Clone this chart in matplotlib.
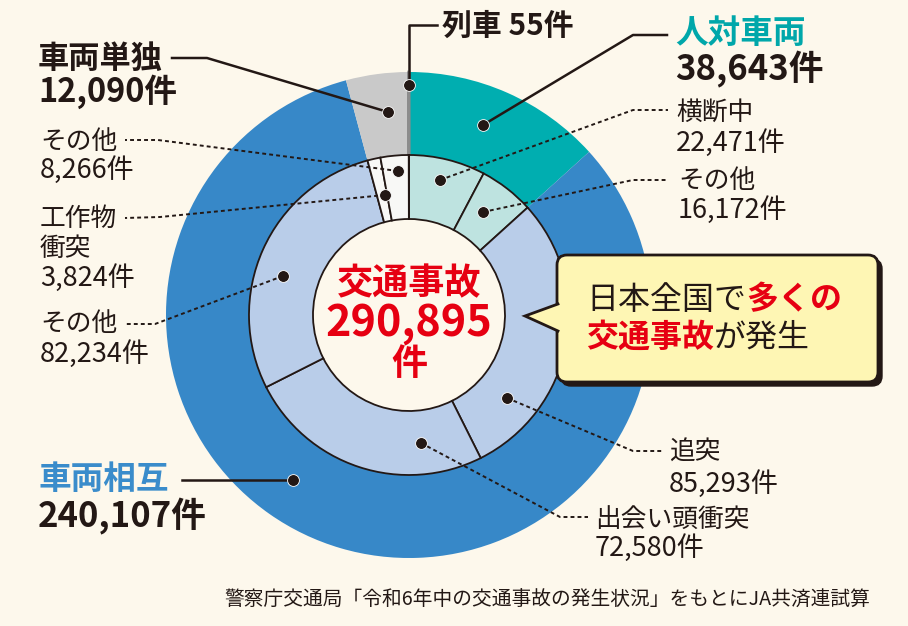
import numpy as np
import matplotlib.pyplot as plt
from matplotlib.patches import FancyBboxPatch, Polygon

plt.rcParams['font.family'] = ['Noto Sans CJK JP', 'DejaVu Sans']

# 外側: 事故類型別
outer_names = ['人対車両', '車両相互', '車両単独', '列車']
outer_counts = [38643, 240107, 12090, 55]
# 内側: 内訳
inner_names = ['横断中', 'その他', '追突', '出会い頭衝突', 'その他', '工作物衝突', 'その他', '列車']
inner_counts = [22471, 16172, 85293, 72580, 82234, 3824, 8266, 55]
total = 290895

BG = '#fdf8ec'
INK = '#231815'
RED = '#e60012'
outer_colors = ['#00aeb0', '#3788c8', '#c9c9c9', '#8c8c8c']
inner_colors = ['#bee3e0', '#bee3e0', '#b9cde9', '#b9cde9', '#b9cde9', '#f8f8f6', '#f8f8f6', '#f8f8f6']

fig = plt.figure(figsize=(9.08, 6.26), dpi=100, facecolor=BG)
ax = fig.add_axes([0, 0, 1, 1])
ax.set_facecolor(BG)

cx, cy = 409, 315
# y axis is inverted below, so counterclock=True runs clockwise on screen
w_out, _ = ax.pie(outer_counts, radius=243, center=(cx, cy), startangle=-90,
                  counterclock=True, colors=outer_colors,
                  wedgeprops=dict(width=83, linewidth=0))
w_out[-1].set_edgecolor(outer_colors[-1])
w_out[-1].set_linewidth(2)
w_in, _ = ax.pie(inner_counts, radius=160, center=(cx, cy), startangle=-90,
                 counterclock=True, colors=inner_colors,
                 wedgeprops=dict(width=64, edgecolor=INK, linewidth=1.3))

ax.set_xlim(0, 908)
ax.set_ylim(626, 0)
ax.set_aspect('equal')
ax.axis('off')

# center text
ax.text(cx, 284, '交通事故', color=RED, fontsize=26, fontweight='bold', ha='center', va='center')
ax.text(cx, 323, f'{total:,}', color=RED, fontsize=31, fontweight='bold', ha='center', va='center')
ax.text(cx, 364, '件', color=RED, fontsize=26, fontweight='bold', ha='center', va='center')

# leader lines: (path, dashed)
leaders = [
    ([(409, 85), (409, 25), (437, 25)], False),
    ([(483, 125), (633, 35), (667, 35)], False),
    ([(388, 112), (207, 58), (172, 58)], False),
    ([(293, 480), (182, 480)], False),
    ([(440, 180), (633, 110), (668, 110)], True),
    ([(483, 212), (633, 180), (668, 180)], True),
    ([(507, 398), (633, 451), (663, 451)], True),
    ([(421, 443), (560, 517), (588, 517)], True),
    ([(398, 171), (158, 140), (125, 140)], True),
    ([(385, 195), (160, 217), (125, 218)], True),
    ([(283, 276), (155, 324), (125, 324)], True),
]
for path, dashed in leaders:
    xs, ys = zip(*path)
    if dashed:
        ax.plot(xs, ys, color=INK, lw=1.4, linestyle=(0, (2, 1.6)))
    else:
        ax.plot(xs, ys, color=INK, lw=1.8)
    ax.plot(xs[0], ys[0], 'o', color=INK, ms=8.5, mec='white', mew=0.6, zorder=5)

def lbl(x, y, s, size, color=INK, bold=False):
    ax.text(x, y, s, fontsize=size, color=color, ha='left', va='center',
            fontweight='bold' if bold else 'normal')

# major labels
lbl(442, 26, f'{outer_names[3]} {outer_counts[3]:,}件', 21.5, bold=True)
lbl(675, 33, outer_names[0], 23.5, color='#00a7aa', bold=True)
lbl(675, 69, f'{outer_counts[0]:,}件', 25, bold=True)
lbl(38, 59, outer_names[2], 22.5, bold=True)
lbl(38, 92, f'{outer_counts[2]:,}件', 23.5, bold=True)
lbl(38, 479, outer_names[1], 23.5, color='#3a8ccb', bold=True)
lbl(38, 516, f'{outer_counts[1]:,}件', 25, bold=True)

# breakdown labels
NS, VS = 18.5, 19.5
lbl(676, 113, inner_names[0], NS)
lbl(676, 143, f'{inner_counts[0]:,}件', VS)
lbl(678, 181, inner_names[1], NS)
lbl(678, 210, f'{inner_counts[1]:,}件', VS)
lbl(669, 453, inner_names[2], NS)
lbl(669, 484, f'{inner_counts[2]:,}件', VS)
lbl(595, 520, inner_names[3], NS)
lbl(595, 548, f'{inner_counts[3]:,}件', VS)
lbl(40, 142, inner_names[6], NS)
lbl(40, 170, f'{inner_counts[6]:,}件', VS)
lbl(40, 219, '工作物', NS)
lbl(40, 249, '衝突', NS)
lbl(40, 278, f'{inner_counts[5]:,}件', VS)
lbl(40, 324, inner_names[4], NS)
lbl(40, 354, f'{inner_counts[4]:,}件', VS)

# callout box
shadow = FancyBboxPatch((561, 259), 321, 127, boxstyle='round,pad=0,rounding_size=10',
                        fc=INK, ec=INK, lw=1, zorder=6)
box = FancyBboxPatch((557, 255), 321, 127, boxstyle='round,pad=0,rounding_size=10',
                     fc='#fef6b4', ec=INK, lw=2, zorder=7)
ax.add_patch(shadow)
ax.add_patch(box)
ax.add_patch(Polygon([(560, 304), (525, 316), (560, 331)], closed=True,
                     fc='#fef6b4', ec='none', zorder=8))
ax.plot([558, 525, 558], [304, 316, 331], color=INK, lw=2, zorder=8,
        solid_joinstyle='miter')

t1 = ax.text(586, 300, '日本全国で', fontsize=23, color=INK, ha='left', va='center', zorder=9)
ax.annotate('多くの', xy=(1, 0.5), xycoords=t1, fontsize=23, color=RED,
            fontweight='bold', ha='left', va='center', zorder=9)
t2 = ax.text(586, 338, '交通事故', fontsize=23, color=RED, fontweight='bold',
             ha='left', va='center', zorder=9)
ax.annotate('が発生', xy=(1, 0.5), xycoords=t2, fontsize=23, color=INK,
            ha='left', va='center', zorder=9)

ax.text(870, 600, '警察庁交通局「令和6年中の交通事故の発生状況」をもとにJA共済連試算',
        fontsize=14.2, color=INK, ha='right', va='center')

fig.savefig('out.png', dpi=100, facecolor=BG)
